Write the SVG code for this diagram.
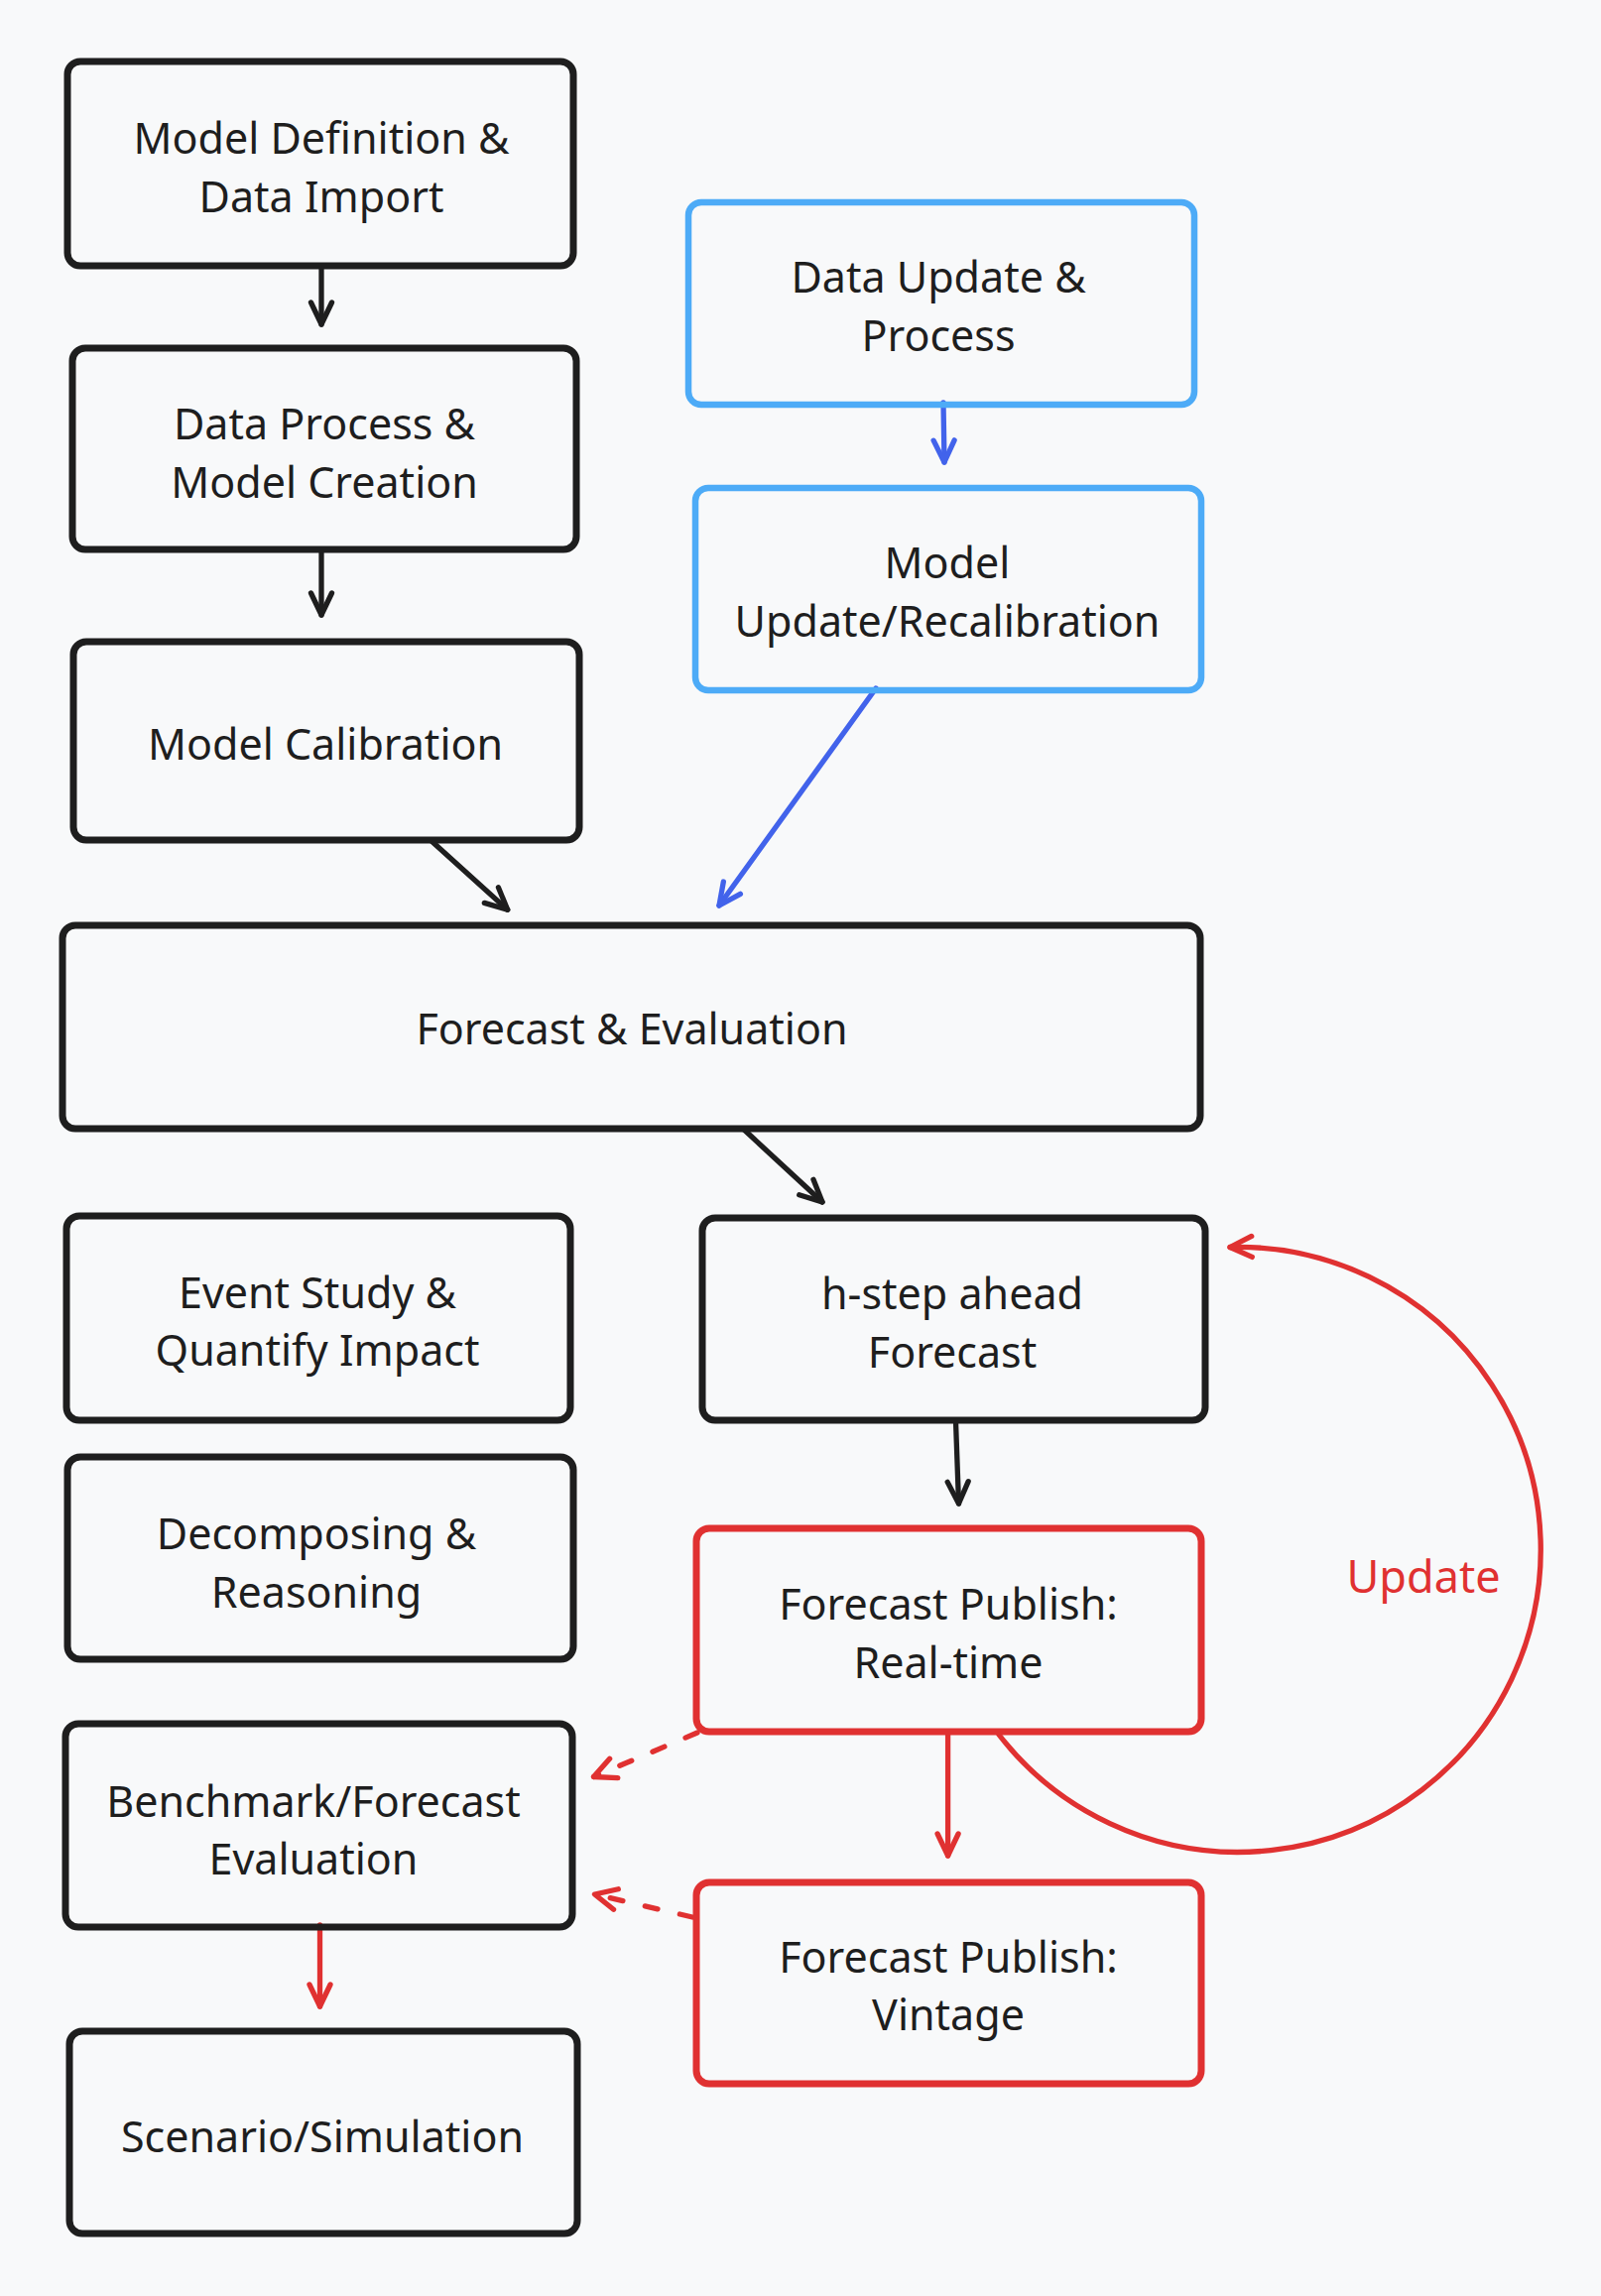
<svg xmlns="http://www.w3.org/2000/svg" width="1614" height="2315" viewBox="0 0 1614 2315">
<style>
.bg{fill:#f8f9fa}
.box{fill:none;stroke:#1e1e1e;stroke-width:7;stroke-linejoin:round}
.blue{stroke:#4dabf7;stroke-width:6.5}
.red{stroke:#e03131}
.t{font-family:'Noto Sans','Liberation Sans',sans-serif;font-size:43px;fill:#1e1e1e;text-anchor:middle}
.upd{font-family:'Noto Sans','Liberation Sans',sans-serif;font-size:45px;fill:#e03131;text-anchor:middle}
.c{fill:none;stroke-width:5.3;stroke-linecap:round;stroke-linejoin:round}
.ck{stroke:#1e1e1e;marker-end:url(#ak)}
.cb{stroke:#4263eb;marker-end:url(#ab)}
.cr{stroke:#e03131;marker-end:url(#ar)}
.dash{stroke-dasharray:13 23}
</style>
<defs>
<marker id="ak" markerUnits="userSpaceOnUse" viewBox="-30 -20 40 40" refX="0" refY="0" markerWidth="40" markerHeight="40" orient="auto" overflow="visible">
<path d="M-22,-10.5 L0,0 L-22,10.5" fill="none" stroke="#1e1e1e" stroke-width="5.3" stroke-linecap="round" stroke-linejoin="round"/>
</marker>
<marker id="ab" markerUnits="userSpaceOnUse" viewBox="-30 -20 40 40" refX="0" refY="0" markerWidth="40" markerHeight="40" orient="auto" overflow="visible">
<path d="M-22,-10.5 L0,0 L-22,10.5" fill="none" stroke="#4263eb" stroke-width="5.3" stroke-linecap="round" stroke-linejoin="round"/>
</marker>
<marker id="ar" markerUnits="userSpaceOnUse" viewBox="-30 -20 40 40" refX="0" refY="0" markerWidth="40" markerHeight="40" orient="auto" overflow="visible">
<path d="M-22,-10.5 L0,0 L-22,10.5" fill="none" stroke="#e03131" stroke-width="5.3" stroke-linecap="round" stroke-linejoin="round"/>
</marker>
</defs>
<rect class="bg" x="0" y="0" width="1614" height="2315"/>

<g id="connectors">
<path class="c ck" d="M324,268 L324,327"/>
<path class="c ck" d="M324,554 L324,620"/>
<path class="c ck" d="M435,848 L511.7,917.3"/>
<path class="c cb" d="M951,406 L952,466"/>
<path class="c cb" d="M883,694 L725,913"/>
<path class="c ck" d="M749,1138 L829,1212"/>
<path class="c ck" d="M963.5,1433 L966.5,1516"/>
<path class="c cr" d="M955.6,1746 L955.6,1871"/>
<path class="c cr dash" d="M703,1747 L598.5,1791.5"/>
<path class="c cr dash" d="M698,1933 L599.5,1910"/>
<path class="c cr" d="M322.5,1941 L322.5,2023"/>
<path class="c cr" d="M1007,1749 A305,305 0 1 0 1240,1257.5"/>
</g>

<g id="n-model-def">
<rect class="box" x="68" y="62" width="510" height="206" rx="13"/>
<text class="t" x="324" y="155">Model Definition &amp;</text>
<text class="t" x="324" y="214">Data Import</text>
</g>
<g id="n-data-process">
<rect class="box" x="73" y="351" width="508" height="203" rx="13"/>
<text class="t" x="327" y="443">Data Process &amp;</text>
<text class="t" x="327" y="502">Model Creation</text>
</g>
<g id="n-calibration">
<rect class="box" x="74" y="647" width="510" height="200" rx="13"/>
<text class="t" x="328" y="766">Model Calibration</text>
</g>
<g id="n-data-update">
<rect class="box blue" x="694" y="204" width="510" height="204" rx="13"/>
<text class="t" x="946" y="295">Data Update &amp;</text>
<text class="t" x="946" y="354">Process</text>
</g>
<g id="n-model-update">
<rect class="box blue" x="701" y="492" width="510" height="204" rx="13"/>
<text class="t" x="955" y="583">Model</text>
<text class="t" x="955" y="642">Update/Recalibration</text>
</g>
<g id="n-forecast-eval">
<rect class="box" x="63" y="933" width="1147" height="205" rx="13"/>
<text class="t" x="637" y="1053">Forecast &amp; Evaluation</text>
</g>
<g id="n-event-study">
<rect class="box" x="67" y="1226" width="508" height="206" rx="13"/>
<text class="t" x="320" y="1319">Event Study &amp;</text>
<text class="t" x="320" y="1377">Quantify Impact</text>
</g>
<g id="n-h-step">
<rect class="box" x="708" y="1228" width="507" height="204" rx="13"/>
<text class="t" x="960" y="1320">h-step ahead</text>
<text class="t" x="960" y="1379">Forecast</text>
</g>
<g id="n-decomposing">
<rect class="box" x="68" y="1469" width="510" height="204" rx="13"/>
<text class="t" x="319" y="1562">Decomposing &amp;</text>
<text class="t" x="319" y="1621">Reasoning</text>
</g>
<g id="n-realtime">
<rect class="box red" x="702" y="1541" width="509" height="205" rx="13"/>
<text class="t" x="956" y="1633">Forecast Publish:</text>
<text class="t" x="956" y="1692">Real-time</text>
</g>
<g id="n-benchmark">
<rect class="box" x="66" y="1738" width="511" height="205" rx="13"/>
<text class="t" x="316" y="1832">Benchmark/Forecast</text>
<text class="t" x="316" y="1890">Evaluation</text>
</g>
<g id="n-vintage">
<rect class="box red" x="702" y="1898" width="509" height="203" rx="13"/>
<text class="t" x="956" y="1989">Forecast Publish:</text>
<text class="t" x="956" y="2047">Vintage</text>
</g>
<g id="n-scenario">
<rect class="box" x="70" y="2048" width="512" height="204" rx="13"/>
<text class="t" x="325" y="2170">Scenario/Simulation</text>
</g>
<g id="label-update">
<text class="upd" x="1435" y="1606">Update</text>
</g>
</svg>
